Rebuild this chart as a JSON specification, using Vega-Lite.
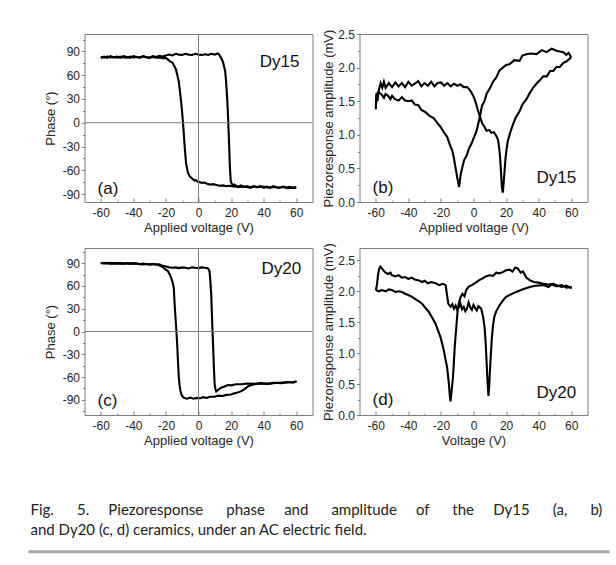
{
"$schema":"https://vega.github.io/schema/vega-lite/v6.json",
"padding":{"left":26.5,"top":27,"right":5,"bottom":2},
"background":"white",
"config":{
"font":"Liberation Sans",
"view":{"stroke":"#7f7f7f","strokeWidth":1},
"axis":{"domain":false,"grid":false,"labelFont":"Liberation Sans","labelFontSize":12,"labelColor":"#262626","titleFont":"Liberation Sans","titleFontSize":13,"titleFontWeight":"normal","titleColor":"#262626","tickColor":"#7f7f7f","labelOverlap":false,"labelExpr":"replace(datum.label, '−', '-')"},
"axisX":{"offset":-4,"tickSize":4,"labelPadding":5,"titlePadding":3},
"axisY":{"tickSize":3,"labelPadding":2},
"text":{"font":"Liberation Sans"}
},
"datasets":{
"a":[
{"s":"f","v":-60,"y":82},{"s":"f","v":-58,"y":83.5},{"s":"f","v":-56,"y":82},{"s":"f","v":-54,"y":84},{"s":"f","v":-52,"y":82.5},{"s":"f","v":-50,"y":83.5},{"s":"f","v":-48,"y":82},{"s":"f","v":-46,"y":84},{"s":"f","v":-44,"y":83},{"s":"f","v":-42,"y":82},{"s":"f","v":-40,"y":84},{"s":"f","v":-38,"y":83},{"s":"f","v":-36,"y":82.5},{"s":"f","v":-34,"y":84},{"s":"f","v":-32,"y":83},{"s":"f","v":-30,"y":82},{"s":"f","v":-28,"y":84},{"s":"f","v":-26,"y":83},{"s":"f","v":-24,"y":84.5},{"s":"f","v":-22,"y":83.5},{"s":"f","v":-20,"y":85},{"s":"f","v":-18,"y":86},{"s":"f","v":-16,"y":85},{"s":"f","v":-14,"y":87},{"s":"f","v":-12,"y":86},{"s":"f","v":-10,"y":85.5},{"s":"f","v":-8,"y":87},{"s":"f","v":-6,"y":86},{"s":"f","v":-4,"y":85.5},{"s":"f","v":-2,"y":87},{"s":"f","v":0,"y":86},{"s":"f","v":2,"y":85.5},{"s":"f","v":4,"y":86.5},{"s":"f","v":6,"y":85.5},{"s":"f","v":8,"y":87},{"s":"f","v":10,"y":86},{"s":"f","v":12,"y":87.5},{"s":"f","v":13,"y":85},{"s":"f","v":14,"y":81},{"s":"f","v":15,"y":77},{"s":"f","v":16.4,"y":65},{"s":"f","v":17,"y":50},{"s":"f","v":17.6,"y":31},{"s":"f","v":18.1,"y":10},{"s":"f","v":18.5,"y":-11},{"s":"f","v":18.9,"y":-33},{"s":"f","v":19.2,"y":-53},{"s":"f","v":19.8,"y":-74},{"s":"f","v":21,"y":-79},{"s":"f","v":22,"y":-78},{"s":"f","v":24,"y":-81},{"s":"f","v":26,"y":-79},{"s":"f","v":28,"y":-81},{"s":"f","v":30,"y":-80},{"s":"f","v":32,"y":-82},{"s":"f","v":34,"y":-80},{"s":"f","v":36,"y":-81.5},{"s":"f","v":38,"y":-80},{"s":"f","v":40,"y":-82},{"s":"f","v":42,"y":-80.5},{"s":"f","v":44,"y":-82},{"s":"f","v":46,"y":-80},{"s":"f","v":48,"y":-81.5},{"s":"f","v":50,"y":-82},{"s":"f","v":52,"y":-80.5},{"s":"f","v":54,"y":-82},{"s":"f","v":56,"y":-81},{"s":"f","v":58,"y":-82.5},{"s":"f","v":60,"y":-81},
{"s":"r","v":-60,"y":83},{"s":"r","v":-58,"y":82},{"s":"r","v":-56,"y":83.5},{"s":"r","v":-54,"y":82.5},{"s":"r","v":-52,"y":83},{"s":"r","v":-50,"y":82},{"s":"r","v":-48,"y":83.5},{"s":"r","v":-46,"y":82.5},{"s":"r","v":-44,"y":82},{"s":"r","v":-42,"y":83.5},{"s":"r","v":-40,"y":82.5},{"s":"r","v":-38,"y":83},{"s":"r","v":-36,"y":82},{"s":"r","v":-34,"y":83.5},{"s":"r","v":-32,"y":82.5},{"s":"r","v":-30,"y":82},{"s":"r","v":-28,"y":83},{"s":"r","v":-26,"y":82},{"s":"r","v":-24,"y":82.5},{"s":"r","v":-22,"y":81.5},{"s":"r","v":-20,"y":81.5},{"s":"r","v":-18.9,"y":80},{"s":"r","v":-17.5,"y":77.5},{"s":"r","v":-15.8,"y":75.5},{"s":"r","v":-13.8,"y":67},{"s":"r","v":-13,"y":60},{"s":"r","v":-12.1,"y":52},{"s":"r","v":-11.4,"y":40},{"s":"r","v":-10.7,"y":27},{"s":"r","v":-10.1,"y":14},{"s":"r","v":-9.6,"y":2},{"s":"r","v":-9.1,"y":-12},{"s":"r","v":-8.6,"y":-27},{"s":"r","v":-8.1,"y":-40},{"s":"r","v":-7.6,"y":-52},{"s":"r","v":-6.5,"y":-63},{"s":"r","v":-5.5,"y":-67},{"s":"r","v":-4.5,"y":-69.5},{"s":"r","v":-3.5,"y":-71},{"s":"r","v":-2.5,"y":-73},{"s":"r","v":-1.5,"y":-72.5},{"s":"r","v":-0.4,"y":-74.5},{"s":"r","v":1,"y":-75},{"s":"r","v":2,"y":-76},{"s":"r","v":3.5,"y":-75.5},{"s":"r","v":5.3,"y":-77},{"s":"r","v":7,"y":-78},{"s":"r","v":9,"y":-77.5},{"s":"r","v":11,"y":-78.5},{"s":"r","v":13,"y":-79.5},{"s":"r","v":15,"y":-79},{"s":"r","v":17,"y":-80},{"s":"r","v":19,"y":-79.5},{"s":"r","v":21,"y":-80.5},{"s":"r","v":23,"y":-80},{"s":"r","v":25,"y":-81},{"s":"r","v":28,"y":-80.5},{"s":"r","v":31,"y":-81.5},{"s":"r","v":34,"y":-80.5},{"s":"r","v":37,"y":-81},{"s":"r","v":40,"y":-80.5},{"s":"r","v":43,"y":-82},{"s":"r","v":46,"y":-81},{"s":"r","v":49,"y":-82},{"s":"r","v":52,"y":-81},{"s":"r","v":55,"y":-82.5},{"s":"r","v":58,"y":-81.5},{"s":"r","v":60,"y":-82}
],
"b":[
{"s":"f","v":-60,"y":1.45},{"s":"f","v":-59.5,"y":1.62},{"s":"f","v":-59,"y":1.5},{"s":"f","v":-58,"y":1.68},{"s":"f","v":-57,"y":1.77},{"s":"f","v":-56,"y":1.7},{"s":"f","v":-55,"y":1.79},{"s":"f","v":-54,"y":1.7},{"s":"f","v":-52,"y":1.77},{"s":"f","v":-50,"y":1.71},{"s":"f","v":-48,"y":1.78},{"s":"f","v":-46,"y":1.72},{"s":"f","v":-44,"y":1.77},{"s":"f","v":-42,"y":1.71},{"s":"f","v":-40,"y":1.79},{"s":"f","v":-38,"y":1.73},{"s":"f","v":-36,"y":1.76},{"s":"f","v":-34,"y":1.8},{"s":"f","v":-32,"y":1.72},{"s":"f","v":-30,"y":1.77},{"s":"f","v":-28,"y":1.73},{"s":"f","v":-26,"y":1.79},{"s":"f","v":-24,"y":1.72},{"s":"f","v":-22,"y":1.77},{"s":"f","v":-20,"y":1.78},{"s":"f","v":-18,"y":1.73},{"s":"f","v":-16,"y":1.77},{"s":"f","v":-14,"y":1.72},{"s":"f","v":-12,"y":1.76},{"s":"f","v":-10,"y":1.73},{"s":"f","v":-8,"y":1.75},{"s":"f","v":-6,"y":1.71},{"s":"f","v":-4,"y":1.71},{"s":"f","v":-2.7,"y":1.68},{"s":"f","v":-1.5,"y":1.64},{"s":"f","v":0.4,"y":1.55},{"s":"f","v":1.5,"y":1.47},{"s":"f","v":2.5,"y":1.38},{"s":"f","v":4,"y":1.27},{"s":"f","v":5.3,"y":1.17},{"s":"f","v":6.7,"y":1.12},{"s":"f","v":8,"y":1.06},{"s":"f","v":9.8,"y":1.07},{"s":"f","v":11,"y":1.03},{"s":"f","v":12.5,"y":1.04},{"s":"f","v":13.9,"y":0.99},{"s":"f","v":15,"y":0.93},{"s":"f","v":15.6,"y":0.84},{"s":"f","v":16.2,"y":0.7},{"s":"f","v":16.6,"y":0.56},{"s":"f","v":17.1,"y":0.35},{"s":"f","v":17.5,"y":0.2},{"s":"f","v":18,"y":0.14},{"s":"f","v":18.6,"y":0.31},{"s":"f","v":19.2,"y":0.5},{"s":"f","v":19.7,"y":0.66},{"s":"f","v":20.4,"y":0.8},{"s":"f","v":21.1,"y":0.91},{"s":"f","v":22.5,"y":1.03},{"s":"f","v":24.2,"y":1.15},{"s":"f","v":26,"y":1.26},{"s":"f","v":28.3,"y":1.35},{"s":"f","v":30,"y":1.45},{"s":"f","v":32.5,"y":1.53},{"s":"f","v":34.5,"y":1.62},{"s":"f","v":36.6,"y":1.7},{"s":"f","v":39,"y":1.77},{"s":"f","v":40.7,"y":1.81},{"s":"f","v":42.8,"y":1.87},{"s":"f","v":45,"y":1.87},{"s":"f","v":47,"y":1.95},{"s":"f","v":49,"y":1.95},{"s":"f","v":51,"y":2.01},{"s":"f","v":53,"y":2.01},{"s":"f","v":55.2,"y":2.07},{"s":"f","v":57,"y":2.09},{"s":"f","v":59.4,"y":2.14},{"s":"f","v":60,"y":2.15},
{"s":"r","v":-60,"y":1.38},{"s":"r","v":-59.6,"y":1.59},{"s":"r","v":-58.5,"y":1.64},{"s":"r","v":-56.5,"y":1.6},{"s":"r","v":-55,"y":1.55},{"s":"r","v":-54,"y":1.61},{"s":"r","v":-52.4,"y":1.58},{"s":"r","v":-51,"y":1.53},{"s":"r","v":-50,"y":1.58},{"s":"r","v":-48.2,"y":1.53},{"s":"r","v":-46,"y":1.51},{"s":"r","v":-44,"y":1.56},{"s":"r","v":-42,"y":1.51},{"s":"r","v":-40,"y":1.5},{"s":"r","v":-37.9,"y":1.51},{"s":"r","v":-36,"y":1.45},{"s":"r","v":-33.8,"y":1.44},{"s":"r","v":-32,"y":1.37},{"s":"r","v":-29.6,"y":1.34},{"s":"r","v":-27,"y":1.28},{"s":"r","v":-24.5,"y":1.25},{"s":"r","v":-22,"y":1.17},{"s":"r","v":-20.3,"y":1.12},{"s":"r","v":-18,"y":1.03},{"s":"r","v":-16.2,"y":0.97},{"s":"r","v":-14.5,"y":0.85},{"s":"r","v":-13.1,"y":0.77},{"s":"r","v":-12,"y":0.65},{"s":"r","v":-11.4,"y":0.56},{"s":"r","v":-10.5,"y":0.44},{"s":"r","v":-10,"y":0.36},{"s":"r","v":-9.4,"y":0.3},{"s":"r","v":-8.9,"y":0.22},{"s":"r","v":-8.4,"y":0.3},{"s":"r","v":-7.9,"y":0.41},{"s":"r","v":-6.8,"y":0.52},{"s":"r","v":-5.8,"y":0.62},{"s":"r","v":-4.2,"y":0.69},{"s":"r","v":-2.7,"y":0.8},{"s":"r","v":-1.2,"y":0.87},{"s":"r","v":0.4,"y":0.97},{"s":"r","v":1.5,"y":1.03},{"s":"r","v":2.5,"y":1.12},{"s":"r","v":4,"y":1.28},{"s":"r","v":5.2,"y":1.43},{"s":"r","v":6.7,"y":1.5},{"s":"r","v":8.2,"y":1.62},{"s":"r","v":9.8,"y":1.68},{"s":"r","v":12,"y":1.79},{"s":"r","v":13.9,"y":1.85},{"s":"r","v":16,"y":1.96},{"s":"r","v":18,"y":2.0},{"s":"r","v":20,"y":2.04},{"s":"r","v":22.1,"y":2.05},{"s":"r","v":25,"y":2.11},{"s":"r","v":28.3,"y":2.1},{"s":"r","v":30,"y":2.18},{"s":"r","v":32.5,"y":2.2},{"s":"r","v":35,"y":2.21},{"s":"r","v":38.7,"y":2.2},{"s":"r","v":42,"y":2.26},{"s":"r","v":44.9,"y":2.23},{"s":"r","v":48,"y":2.28},{"s":"r","v":51,"y":2.25},{"s":"r","v":53,"y":2.24},{"s":"r","v":55.2,"y":2.23},{"s":"r","v":57,"y":2.19},{"s":"r","v":58.4,"y":2.22},{"s":"r","v":60,"y":2.15}
],
"c":[
{"s":"f","v":-60,"y":90.5},{"s":"f","v":-58,"y":89.5},{"s":"f","v":-56,"y":90.5},{"s":"f","v":-54,"y":89},{"s":"f","v":-52,"y":90},{"s":"f","v":-50,"y":89.5},{"s":"f","v":-48,"y":90.5},{"s":"f","v":-46,"y":89},{"s":"f","v":-44,"y":90},{"s":"f","v":-42,"y":89},{"s":"f","v":-40,"y":90},{"s":"f","v":-38,"y":89.5},{"s":"f","v":-36,"y":88.5},{"s":"f","v":-34,"y":89.5},{"s":"f","v":-32,"y":89},{"s":"f","v":-30,"y":88},{"s":"f","v":-28,"y":89},{"s":"f","v":-26,"y":88},{"s":"f","v":-24,"y":88.5},{"s":"f","v":-22,"y":86.5},{"s":"f","v":-20,"y":85.5},{"s":"f","v":-18,"y":84.5},{"s":"f","v":-16,"y":84},{"s":"f","v":-14,"y":84.5},{"s":"f","v":-12,"y":83.5},{"s":"f","v":-10,"y":84.5},{"s":"f","v":-8,"y":84},{"s":"f","v":-6,"y":83},{"s":"f","v":-4,"y":84.5},{"s":"f","v":-2,"y":84},{"s":"f","v":0,"y":83.5},{"s":"f","v":2,"y":84.5},{"s":"f","v":4,"y":84},{"s":"f","v":5.5,"y":83.5},{"s":"f","v":6.3,"y":82},{"s":"f","v":6.8,"y":79},{"s":"f","v":7.3,"y":66},{"s":"f","v":7.8,"y":49},{"s":"f","v":8.3,"y":18},{"s":"f","v":8.9,"y":-16},{"s":"f","v":9.4,"y":-45},{"s":"f","v":9.9,"y":-69},{"s":"f","v":10.4,"y":-76},{"s":"f","v":10.9,"y":-79},{"s":"f","v":12,"y":-77},{"s":"f","v":13.9,"y":-74},{"s":"f","v":16,"y":-72.5},{"s":"f","v":18,"y":-70.5},{"s":"f","v":20,"y":-71},{"s":"f","v":23,"y":-69.5},{"s":"f","v":26.3,"y":-69.5},{"s":"f","v":30,"y":-68.5},{"s":"f","v":34.6,"y":-69},{"s":"f","v":38,"y":-68},{"s":"f","v":42.8,"y":-69},{"s":"f","v":46,"y":-67.5},{"s":"f","v":51,"y":-68},{"s":"f","v":55,"y":-66.5},{"s":"f","v":58,"y":-67.5},{"s":"f","v":60.3,"y":-65.5},
{"s":"r","v":-60,"y":90},{"s":"r","v":-58,"y":90.5},{"s":"r","v":-56,"y":89.5},{"s":"r","v":-54,"y":90.5},{"s":"r","v":-52,"y":89.5},{"s":"r","v":-50,"y":90},{"s":"r","v":-48,"y":89},{"s":"r","v":-46,"y":90},{"s":"r","v":-44,"y":89.5},{"s":"r","v":-42,"y":90},{"s":"r","v":-40,"y":89},{"s":"r","v":-38,"y":89.5},{"s":"r","v":-36,"y":89},{"s":"r","v":-34,"y":88.5},{"s":"r","v":-32,"y":89},{"s":"r","v":-30,"y":88.5},{"s":"r","v":-28,"y":89},{"s":"r","v":-26,"y":88.5},{"s":"r","v":-25,"y":88},{"s":"r","v":-23.5,"y":86.5},{"s":"r","v":-22,"y":85},{"s":"r","v":-20.5,"y":82},{"s":"r","v":-18.9,"y":80},{"s":"r","v":-17.9,"y":76},{"s":"r","v":-16.9,"y":71.4},{"s":"r","v":-15.9,"y":65},{"s":"r","v":-15.2,"y":58},{"s":"r","v":-14.8,"y":42},{"s":"r","v":-14.4,"y":27},{"s":"r","v":-13.7,"y":5},{"s":"r","v":-13.1,"y":-16.5},{"s":"r","v":-12.6,"y":-40},{"s":"r","v":-12.1,"y":-60},{"s":"r","v":-11.6,"y":-71},{"s":"r","v":-11.1,"y":-78},{"s":"r","v":-10.3,"y":-84},{"s":"r","v":-9,"y":-87.5},{"s":"r","v":-7,"y":-88.5},{"s":"r","v":-5,"y":-87},{"s":"r","v":-3,"y":-88.5},{"s":"r","v":-1,"y":-87.5},{"s":"r","v":1.2,"y":-88},{"s":"r","v":3,"y":-86.5},{"s":"r","v":5,"y":-87.5},{"s":"r","v":7,"y":-86},{"s":"r","v":9.7,"y":-86},{"s":"r","v":12,"y":-84.5},{"s":"r","v":15,"y":-85},{"s":"r","v":17,"y":-83.5},{"s":"r","v":20,"y":-83},{"s":"r","v":22,"y":-81.5},{"s":"r","v":24,"y":-80.5},{"s":"r","v":26.3,"y":-78.6},{"s":"r","v":28.5,"y":-75.5},{"s":"r","v":30.5,"y":-72},{"s":"r","v":32.5,"y":-70.5},{"s":"r","v":34.6,"y":-69.5},{"s":"r","v":38,"y":-68.5},{"s":"r","v":42,"y":-69},{"s":"r","v":46,"y":-68},{"s":"r","v":50,"y":-67.5},{"s":"r","v":54,"y":-67},{"s":"r","v":58,"y":-66.5},{"s":"r","v":60,"y":-66}
],
"d":[
{"s":"f","v":-60,"y":2.02},{"s":"f","v":-59.3,"y":2.1},{"s":"f","v":-58.7,"y":2.25},{"s":"f","v":-58,"y":2.36},{"s":"f","v":-57.2,"y":2.4},{"s":"f","v":-56.3,"y":2.37},{"s":"f","v":-55,"y":2.33},{"s":"f","v":-54,"y":2.3},{"s":"f","v":-52.5,"y":2.28},{"s":"f","v":-51,"y":2.3},{"s":"f","v":-50.1,"y":2.26},{"s":"f","v":-48,"y":2.24},{"s":"f","v":-46,"y":2.26},{"s":"f","v":-44,"y":2.22},{"s":"f","v":-41.9,"y":2.23},{"s":"f","v":-40,"y":2.2},{"s":"f","v":-38,"y":2.22},{"s":"f","v":-36,"y":2.19},{"s":"f","v":-34,"y":2.18},{"s":"f","v":-31.6,"y":2.15},{"s":"f","v":-30,"y":2.17},{"s":"f","v":-28,"y":2.13},{"s":"f","v":-26,"y":2.15},{"s":"f","v":-23.3,"y":2.13},{"s":"f","v":-21,"y":2.1},{"s":"f","v":-19,"y":2.12},{"s":"f","v":-17.1,"y":2.1},{"s":"f","v":-16.3,"y":1.95},{"s":"f","v":-15.5,"y":1.8},{"s":"f","v":-14.1,"y":1.75},{"s":"f","v":-13,"y":1.79},{"s":"f","v":-12,"y":1.72},{"s":"f","v":-11,"y":1.77},{"s":"f","v":-10,"y":1.7},{"s":"f","v":-9,"y":1.74},{"s":"f","v":-8,"y":1.8},{"s":"f","v":-7,"y":1.71},{"s":"f","v":-6,"y":1.75},{"s":"f","v":-5,"y":1.68},{"s":"f","v":-4,"y":1.72},{"s":"f","v":-3,"y":1.82},{"s":"f","v":-2,"y":1.74},{"s":"f","v":-1,"y":1.7},{"s":"f","v":0,"y":1.78},{"s":"f","v":1,"y":1.73},{"s":"f","v":2,"y":1.69},{"s":"f","v":3,"y":1.76},{"s":"f","v":4.7,"y":1.72},{"s":"f","v":5.8,"y":1.6},{"s":"f","v":6.8,"y":1.42},{"s":"f","v":7.5,"y":1.15},{"s":"f","v":8,"y":0.88},{"s":"f","v":8.6,"y":0.55},{"s":"f","v":9.2,"y":0.31},{"s":"f","v":9.7,"y":0.5},{"s":"f","v":10.1,"y":0.72},{"s":"f","v":10.7,"y":1.0},{"s":"f","v":11.3,"y":1.26},{"s":"f","v":12,"y":1.45},{"s":"f","v":12.8,"y":1.59},{"s":"f","v":14,"y":1.68},{"s":"f","v":15.9,"y":1.77},{"s":"f","v":18,"y":1.85},{"s":"f","v":20,"y":1.91},{"s":"f","v":23,"y":1.95},{"s":"f","v":26.2,"y":1.99},{"s":"f","v":30,"y":2.03},{"s":"f","v":34.5,"y":2.07},{"s":"f","v":38,"y":2.09},{"s":"f","v":42.8,"y":2.1},{"s":"f","v":46,"y":2.07},{"s":"f","v":48,"y":2.11},{"s":"f","v":51,"y":2.08},{"s":"f","v":54,"y":2.1},{"s":"f","v":57,"y":2.06},{"s":"f","v":60.3,"y":2.07},
{"s":"r","v":-60,"y":2.02},{"s":"r","v":-58,"y":2.0},{"s":"r","v":-56.3,"y":2.02},{"s":"r","v":-54,"y":2.0},{"s":"r","v":-52,"y":2.03},{"s":"r","v":-50.1,"y":2.02},{"s":"r","v":-48,"y":1.99},{"s":"r","v":-46,"y":2.0},{"s":"r","v":-44,"y":1.99},{"s":"r","v":-42,"y":1.96},{"s":"r","v":-40,"y":1.94},{"s":"r","v":-37.8,"y":1.91},{"s":"r","v":-35,"y":1.86},{"s":"r","v":-33,"y":1.83},{"s":"r","v":-31.6,"y":1.8},{"s":"r","v":-29.5,"y":1.73},{"s":"r","v":-27.5,"y":1.67},{"s":"r","v":-25.5,"y":1.58},{"s":"r","v":-23.4,"y":1.48},{"s":"r","v":-21.8,"y":1.37},{"s":"r","v":-20.3,"y":1.26},{"s":"r","v":-19.2,"y":1.15},{"s":"r","v":-18.2,"y":1.04},{"s":"r","v":-17.2,"y":0.9},{"s":"r","v":-16.2,"y":0.77},{"s":"r","v":-15.6,"y":0.62},{"s":"r","v":-15.1,"y":0.5},{"s":"r","v":-14.6,"y":0.33},{"s":"r","v":-14.1,"y":0.22},{"s":"r","v":-13.4,"y":0.4},{"s":"r","v":-12.6,"y":0.61},{"s":"r","v":-12,"y":0.88},{"s":"r","v":-11.4,"y":1.15},{"s":"r","v":-10.6,"y":1.4},{"s":"r","v":-9.9,"y":1.64},{"s":"r","v":-9.4,"y":1.75},{"s":"r","v":-8.9,"y":1.82},{"s":"r","v":-8,"y":1.9},{"s":"r","v":-6.8,"y":1.96},{"s":"r","v":-5.5,"y":1.92},{"s":"r","v":-4.5,"y":2.02},{"s":"r","v":-2.7,"y":2.08},{"s":"r","v":-1,"y":2.1},{"s":"r","v":1.4,"y":2.14},{"s":"r","v":3.5,"y":2.18},{"s":"r","v":5.6,"y":2.21},{"s":"r","v":7.5,"y":2.24},{"s":"r","v":9.7,"y":2.26},{"s":"r","v":12,"y":2.25},{"s":"r","v":13.9,"y":2.3},{"s":"r","v":15.9,"y":2.29},{"s":"r","v":18,"y":2.31},{"s":"r","v":20,"y":2.34},{"s":"r","v":22.1,"y":2.35},{"s":"r","v":24,"y":2.32},{"s":"r","v":25.5,"y":2.38},{"s":"r","v":27.2,"y":2.37},{"s":"r","v":29,"y":2.3},{"s":"r","v":30.4,"y":2.32},{"s":"r","v":32.5,"y":2.22},{"s":"r","v":34.5,"y":2.18},{"s":"r","v":37,"y":2.15},{"s":"r","v":40,"y":2.14},{"s":"r","v":42.8,"y":2.12},{"s":"r","v":46,"y":2.11},{"s":"r","v":49,"y":2.12},{"s":"r","v":51,"y":2.1},{"s":"r","v":54,"y":2.07},{"s":"r","v":57,"y":2.09},{"s":"r","v":60.3,"y":2.05}
]
},
"columns":2,"bounds":"flush","spacing":{"row":46,"column":47},
"concat":[
{"width":228,"height":168,"resolve":{"axis":{"x":"independent","y":"independent"}},"layer":[
{"data":{"name":"a"},"mark":{"type":"line","color":"#000","strokeWidth":2.1},"encoding":{"x":{"field":"v","type":"quantitative","scale":{"domain":[-70,70],"nice":false},"axis":{"orient":"bottom","values":[-60,-40,-20,0,20,40,60],"tickCount":30,"labelOverlap":false,"title":"Applied voltage (V)"}},"y":{"field":"y","type":"quantitative","scale":{"domain":[-100,112],"nice":false,"zero":false},"axis":{"orient":"left","values":[-90,-60,-30,0,30,60,90],"tickCount":30,"labelOverlap":false,"title":"Phase (°)","titlePadding":5}},"detail":{"field":"s"}}},
{"data":{"values":[{}]},"mark":{"type":"rule","color":"#7f7f7f","strokeWidth":1},"encoding":{"x":{"datum":0,"type":"quantitative","axis":null}}},
{"data":{"values":[{}]},"mark":{"type":"rule","color":"#7f7f7f","strokeWidth":1},"encoding":{"y":{"datum":0,"type":"quantitative","axis":null}}},
{"data":{"values":[{}]},"mark":{"type":"text","align":"right","baseline":"alphabetic","fontSize":17,"color":"#111"},"encoding":{"x":{"datum":62,"type":"quantitative","axis":{"orient":"bottom","values":[-50,-30,-10,10,30,50],"tickCount":30,"labels":false,"title":null,"tickSize":2,"offset":-2}},"y":{"datum":70,"type":"quantitative","axis":{"orient":"left","values":[-75,-45,-15,15,45,75,105],"tickCount":30,"labels":false,"title":null,"tickSize":2}},"text":{"value":"Dy15"}}},
{"data":{"values":[{}]},"mark":{"type":"text","align":"left","baseline":"alphabetic","fontSize":17,"color":"#111"},"encoding":{"x":{"datum":-62,"type":"quantitative","axis":null},"y":{"datum":-90,"type":"quantitative","axis":null},"text":{"value":"(a)"}}}
]},
{"width":228,"height":168,"resolve":{"axis":{"x":"independent","y":"independent"}},"layer":[
{"data":{"name":"b"},"mark":{"type":"line","color":"#000","strokeWidth":2.1},"encoding":{"x":{"field":"v","type":"quantitative","scale":{"domain":[-70,70],"nice":false},"axis":{"orient":"bottom","values":[-60,-40,-20,0,20,40,60],"tickCount":30,"labelOverlap":false,"title":"Applied voltage (V)"}},"y":{"field":"y","type":"quantitative","scale":{"domain":[0,2.5],"nice":false},"axis":{"orient":"left","values":[0,0.5,1,1.5,2,2.5],"tickCount":30,"labelOverlap":false,"format":".1f","title":"Piezoresponse amplitude (mV)","titlePadding":2}},"detail":{"field":"s"}}},
{"data":{"values":[{}]},"mark":{"type":"text","align":"right","baseline":"alphabetic","fontSize":17,"color":"#111"},"encoding":{"x":{"datum":63,"type":"quantitative","axis":{"orient":"bottom","values":[-50,-30,-10,10,30,50],"tickCount":30,"labels":false,"title":null,"tickSize":2,"offset":-2}},"y":{"datum":0.28,"type":"quantitative","axis":{"orient":"left","values":[0.25,0.75,1.25,1.75,2.25],"tickCount":30,"labels":false,"title":null,"tickSize":2}},"text":{"value":"Dy15"}}},
{"data":{"values":[{}]},"mark":{"type":"text","align":"left","baseline":"alphabetic","fontSize":17,"color":"#111"},"encoding":{"x":{"datum":-62,"type":"quantitative","axis":null},"y":{"datum":0.14,"type":"quantitative","axis":null},"text":{"value":"(b)"}}}
]},
{"width":228,"height":167,"resolve":{"axis":{"x":"independent","y":"independent"}},"layer":[
{"data":{"name":"c"},"mark":{"type":"line","color":"#000","strokeWidth":2.1},"encoding":{"x":{"field":"v","type":"quantitative","scale":{"domain":[-70,70],"nice":false},"axis":{"orient":"bottom","values":[-60,-40,-20,0,20,40,60],"tickCount":30,"labelOverlap":false,"title":"Applied voltage (V)"}},"y":{"field":"y","type":"quantitative","scale":{"domain":[-110,110],"nice":false,"zero":false},"axis":{"orient":"left","values":[-90,-60,-30,0,30,60,90],"tickCount":30,"labelOverlap":false,"title":"Phase (°)","titlePadding":5}},"detail":{"field":"s"}}},
{"data":{"values":[{}]},"mark":{"type":"rule","color":"#7f7f7f","strokeWidth":1},"encoding":{"x":{"datum":0,"type":"quantitative","axis":null}}},
{"data":{"values":[{}]},"mark":{"type":"rule","color":"#7f7f7f","strokeWidth":1},"encoding":{"y":{"datum":0,"type":"quantitative","axis":null}}},
{"data":{"values":[{}]},"mark":{"type":"text","align":"right","baseline":"alphabetic","fontSize":17,"color":"#111"},"encoding":{"x":{"datum":63,"type":"quantitative","axis":{"orient":"bottom","values":[-50,-30,-10,10,30,50],"tickCount":30,"labels":false,"title":null,"tickSize":2,"offset":-2}},"y":{"datum":76,"type":"quantitative","axis":{"orient":"left","values":[-105,-75,-45,-15,15,45,75,105],"tickCount":30,"labels":false,"title":null,"tickSize":2}},"text":{"value":"Dy20"}}},
{"data":{"values":[{}]},"mark":{"type":"text","align":"left","baseline":"alphabetic","fontSize":17,"color":"#111"},"encoding":{"x":{"datum":-62,"type":"quantitative","axis":null},"y":{"datum":-98,"type":"quantitative","axis":null},"text":{"value":"(c)"}}}
]},
{"width":228,"height":167,"resolve":{"axis":{"x":"independent","y":"independent"}},"layer":[
{"data":{"name":"d"},"mark":{"type":"line","color":"#000","strokeWidth":2.1},"encoding":{"x":{"field":"v","type":"quantitative","scale":{"domain":[-70,70],"nice":false},"axis":{"orient":"bottom","values":[-60,-40,-20,0,20,40,60],"tickCount":30,"labelOverlap":false,"title":"Voltage (V)"}},"y":{"field":"y","type":"quantitative","scale":{"domain":[0,2.7],"nice":false},"axis":{"orient":"left","values":[0,0.5,1,1.5,2,2.5],"tickCount":30,"labelOverlap":false,"format":".1f","title":"Piezoresponse amplitude (mV)","titlePadding":2}},"detail":{"field":"s"}}},
{"data":{"values":[{}]},"mark":{"type":"text","align":"right","baseline":"alphabetic","fontSize":17,"color":"#111"},"encoding":{"x":{"datum":63,"type":"quantitative","axis":{"orient":"bottom","values":[-50,-30,-10,10,30,50],"tickCount":30,"labels":false,"title":null,"tickSize":2,"offset":-2}},"y":{"datum":0.28,"type":"quantitative","axis":{"orient":"left","values":[0.25,0.75,1.25,1.75,2.25],"tickCount":30,"labels":false,"title":null,"tickSize":2}},"text":{"value":"Dy20"}}},
{"data":{"values":[{}]},"mark":{"type":"text","align":"left","baseline":"alphabetic","fontSize":17,"color":"#111"},"encoding":{"x":{"datum":-62,"type":"quantitative","axis":null},"y":{"datum":0.16,"type":"quantitative","axis":null},"text":{"value":"(d)"}}}
]},
{"width":228,"height":98,"view":{"stroke":null},
"data":{"values":[{"line":1,"text":"Fig.\u00a0\u00a0\u00a0\u00a0\u00a0 5.\u00a0\u00a0\u00a0\u00a0 Piezoresponse\u00a0\u00a0\u00a0\u00a0\u00a0 phase\u00a0\u00a0\u00a0\u00a0 and\u00a0\u00a0\u00a0\u00a0\u00a0 amplitude\u00a0\u00a0\u00a0\u00a0 of\u00a0\u00a0\u00a0\u00a0\u00a0 the\u00a0\u00a0\u00a0\u00a0 Dy15\u00a0\u00a0\u00a0\u00a0\u00a0 (a,\u00a0\u00a0\u00a0\u00a0\u00a0 b)"},{"line":2,"text":"and Dy20 (c, d) ceramics, under an AC electric field."}]},
"layer":[
{"mark":{"type":"text","align":"left","baseline":"middle","font":"Lato","fontSize":15,"color":"#222","dx":-54},"encoding":{"x":{"datum":0,"type":"quantitative","scale":{"domain":[0,1]},"axis":null},"y":{"field":"line","type":"quantitative","scale":{"domain":[-1.318,3.136],"reverse":true},"axis":null},"text":{"field":"text"}}},
{"data":{"values":[{}]},"mark":{"type":"rule","color":"#a6a6a6","strokeWidth":3,"xOffset":-56,"x2Offset":297},"encoding":{"x":{"datum":0,"type":"quantitative","axis":null},"x2":{"datum":1},"y":{"datum":3.136,"type":"quantitative","axis":null}}}
]}
]
}
